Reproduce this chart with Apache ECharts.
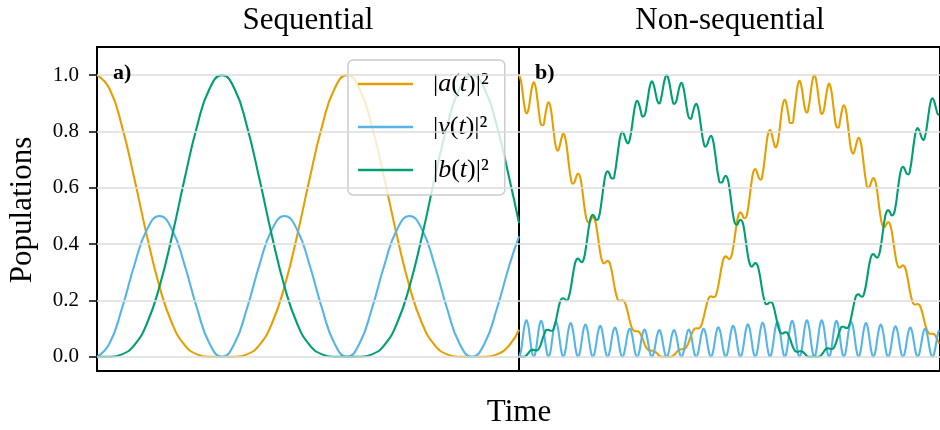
<!DOCTYPE html>
<html>
<head>
<meta charset="utf-8">
<script src="https://cdn.jsdelivr.net/npm/echarts@6/dist/echarts.min.js"></script>
<style>html,body{margin:0;padding:0;background:#fff}#c{width:940px;height:430px}</style>
</head>
<body>
<div id="c"></div>
<script>
// ---------- data ----------
const yTicks = [0, 0.2, 0.4, 0.6, 0.8, 1.0];
const seriesNames = ['a', 'v', 'b'];
const panelTitles = ['Sequential', 'Non-sequential'];
const panelTags = ['a)', 'b)'];

// Sequential panel (time in sample units)
const seqT = [0,1,2,3,4,5,6,7,8,9,10,11,12,13,14,15,16,17,18,19,20,21,22,23,24,25,26,27,28,29,30,31,32,33,33.76];
const seqA = [1,0.9517,0.8181,0.6303,0.4284,0.25,0.1194,0.0425,0.0091,0.0006,0,0.0006,0.0091,0.0425,0.1194,0.25,0.4284,0.6303,0.8181,0.9517,
              1,0.9517,0.8181,0.6303,0.4284,0.25,0.1194,0.0425,0.0091,0.0006,0,0.0006,0.0091,0.0425,0.0963];
const seqV = [0,0.0477,0.1727,0.3273,0.4523,0.5,0.4523,0.3273,0.1727,0.0477,
              0,0.0477,0.1727,0.3273,0.4523,0.5,0.4523,0.3273,0.1727,0.0477,
              0,0.0477,0.1727,0.3273,0.4523,0.5,0.4523,0.3273,0.1727,0.0477,
              0,0.0477,0.1727,0.3273,0.4281];
const seqB = [0,0.0006,0.0091,0.0425,0.1194,0.25,0.4284,0.6303,0.8181,0.9517,
              1,0.9517,0.8181,0.6303,0.4284,0.25,0.1194,0.0425,0.0091,0.0006,
              0,0.0006,0.0091,0.0425,0.1194,0.25,0.4284,0.6303,0.8181,0.9517,
              1,0.9517,0.8181,0.6303,0.4755];

// Non-sequential panel (time in half-sample units)
const nsT = [0,0.5,1,1.5,2,2.5,3,3.5,4,4.5,5,5.5,6,6.5,7,7.5,8,8.5,9,9.5,
  10,10.5,11,11.5,12,12.5,13,13.5,14,14.5,15,15.5,16,16.5,17,17.5,18,18.5,19,19.5,
  20,20.5,21,21.5,22,22.5,23,23.5,24,24.5,25,25.5,26,26.5,27,27.5,28,28.5,29,29.5,
  30,30.5,31,31.5,32,32.5,33,33.5,34,34.5,35,35.5,36,36.5,37,37.5,38,38.5,39,39.5,
  40,40.5,41,41.5,42,42.5,43,43.5,44,44.5,45,45.5,46,46.5,47,47.5,48,48.5,49,49.5,
  50,50.5,51,51.5,52,52.5,53,53.5,54,54.5,55,55.5,56,56.5,57,57.5,58,58.5,59,59.5,
  60,60.5,61,61.5,62,62.5,63,63.5,64,64.5,65,65.5,66,66.5,67,67.5,68,68.5,69,69.5,
  70,70.5,71,71.5,72,72.5,73,73.5,74,74.5,75,75.5,76,76.5,77,77.5,78,78.5,79,79.5,
  80,80.5,81,81.5,82,82.5,83,83.5,84,84.5,85,85.5,86,86.5,87,87.5,88,88.5,89,89.5,
  90,90.5,91,91.5,92,92.5,93,93.5,94,94.5,95,95.5,96,96.5,97,97.5,98,98.5,99,99.5,
  100,100.5,101,101.5,102,102.5,103,103.5,104,104.5,105,105.5,106,106.5,107,107.5,108,108.5,109,109.5,
  110,110.5,111,111.5,112,112.5,113,113.5,113.78];
const nsA = [1.000,0.981,0.936,0.888,0.865,0.876,0.915,0.956,0.975,0.958,0.912,0.858,0.824,0.822,0.850,0.885,0.904,0.889,0.844,0.788,
  0.746,0.732,0.748,0.776,0.792,0.779,0.739,0.684,0.637,0.615,0.620,0.639,0.651,0.641,0.606,0.555,0.508,0.481,0.476,0.487,
  0.496,0.488,0.459,0.415,0.371,0.342,0.332,0.336,0.341,0.335,0.312,0.277,0.240,0.213,0.200,0.199,0.201,0.197,0.181,0.156,
  0.128,0.106,0.094,0.091,0.091,0.089,0.079,0.064,0.046,0.033,0.025,0.023,0.022,0.021,0.017,0.011,0.004,0.001,0.000,0.000,
  0.000,0.000,0.000,0.002,0.007,0.014,0.021,0.026,0.027,0.028,0.030,0.039,0.053,0.072,0.088,0.099,0.102,0.101,0.104,0.116,
  0.139,0.168,0.194,0.211,0.215,0.213,0.213,0.226,0.254,0.291,0.327,0.351,0.357,0.352,0.347,0.357,0.386,0.430,0.475,0.505,
  0.513,0.504,0.492,0.495,0.523,0.570,0.621,0.657,0.667,0.654,0.635,0.629,0.650,0.696,0.752,0.793,0.805,0.789,0.761,0.744,
  0.756,0.797,0.853,0.898,0.913,0.895,0.859,0.830,0.830,0.864,0.917,0.963,0.980,0.961,0.919,0.879,0.867,0.889,0.936,0.981,
  1.000,0.981,0.936,0.887,0.862,0.872,0.910,0.950,0.970,0.953,0.907,0.853,0.817,0.814,0.841,0.875,0.893,0.879,0.834,0.778,
  0.735,0.721,0.736,0.762,0.778,0.766,0.726,0.671,0.624,0.601,0.605,0.623,0.635,0.625,0.590,0.540,0.494,0.466,0.461,0.470,
  0.479,0.471,0.443,0.400,0.357,0.327,0.317,0.320,0.325,0.319,0.297,0.263,0.227,0.200,0.187,0.186,0.188,0.184,0.168,0.144,
  0.117,0.096,0.085,0.082,0.082,0.080,0.070,0.056,0.047];
const nsV = [0.000,0.019,0.065,0.111,0.130,0.111,0.065,0.019,0.000,0.019,0.064,0.110,0.128,0.109,0.064,0.019,0.000,0.018,0.063,0.107,
  0.125,0.106,0.062,0.018,0.000,0.018,0.061,0.103,0.120,0.102,0.060,0.017,0.000,0.017,0.058,0.099,0.115,0.098,0.057,0.017,
  0.000,0.016,0.055,0.094,0.110,0.093,0.054,0.016,0.000,0.016,0.053,0.090,0.104,0.089,0.052,0.015,0.000,0.015,0.050,0.086,
  0.100,0.085,0.050,0.014,0.000,0.014,0.049,0.083,0.097,0.082,0.048,0.014,0.000,0.014,0.048,0.081,0.095,0.081,0.048,0.014,
  0.000,0.014,0.048,0.081,0.095,0.081,0.048,0.014,0.000,0.014,0.048,0.083,0.097,0.083,0.049,0.014,0.000,0.014,0.050,0.085,
  0.100,0.086,0.051,0.015,0.000,0.015,0.052,0.089,0.105,0.090,0.053,0.016,0.000,0.016,0.054,0.093,0.110,0.095,0.056,0.016,
  0.000,0.017,0.057,0.098,0.116,0.099,0.059,0.017,0.000,0.017,0.060,0.103,0.121,0.104,0.061,0.018,0.000,0.018,0.062,0.106,
  0.125,0.107,0.063,0.019,0.000,0.019,0.064,0.109,0.128,0.110,0.064,0.019,0.000,0.019,0.065,0.111,0.130,0.111,0.065,0.019,
  0.000,0.019,0.065,0.111,0.130,0.111,0.065,0.019,0.000,0.019,0.064,0.109,0.128,0.109,0.064,0.019,0.000,0.018,0.063,0.107,
  0.124,0.106,0.062,0.018,0.000,0.018,0.061,0.103,0.120,0.102,0.059,0.017,0.000,0.017,0.058,0.098,0.115,0.097,0.057,0.016,
  0.000,0.016,0.055,0.094,0.109,0.092,0.054,0.016,0.000,0.015,0.053,0.089,0.104,0.088,0.051,0.015,0.000,0.015,0.050,0.085,
  0.100,0.085,0.049,0.014,0.000,0.014,0.049,0.083,0.094];
const nsB = [0.000,0.000,0.000,0.001,0.005,0.013,0.021,0.025,0.025,0.023,0.024,0.032,0.048,0.069,0.086,0.096,0.096,0.093,0.093,0.105,
  0.129,0.161,0.190,0.206,0.208,0.203,0.200,0.213,0.243,0.283,0.321,0.344,0.349,0.342,0.336,0.346,0.377,0.422,0.467,0.496,
  0.504,0.496,0.486,0.491,0.519,0.565,0.614,0.649,0.659,0.650,0.635,0.633,0.656,0.699,0.748,0.786,0.799,0.788,0.768,0.758,
  0.772,0.809,0.856,0.894,0.909,0.897,0.872,0.853,0.857,0.885,0.927,0.963,0.978,0.965,0.936,0.908,0.900,0.918,0.953,0.986,
  1.000,0.986,0.953,0.916,0.898,0.904,0.931,0.960,0.973,0.958,0.922,0.879,0.850,0.845,0.863,0.887,0.898,0.884,0.846,0.799,
  0.761,0.746,0.755,0.774,0.785,0.772,0.735,0.685,0.641,0.619,0.620,0.634,0.643,0.633,0.599,0.550,0.504,0.475,0.469,0.479,
  0.487,0.480,0.451,0.406,0.361,0.331,0.320,0.326,0.333,0.328,0.306,0.269,0.229,0.200,0.187,0.189,0.195,0.193,0.177,0.150,
  0.119,0.095,0.084,0.083,0.087,0.087,0.077,0.061,0.042,0.027,0.019,0.018,0.020,0.020,0.016,0.010,0.003,0.000,0.000,0.000,
  0.000,0.000,0.000,0.002,0.008,0.017,0.026,0.031,0.030,0.028,0.029,0.038,0.055,0.077,0.096,0.107,0.107,0.103,0.103,0.115,
  0.141,0.173,0.203,0.220,0.222,0.216,0.214,0.226,0.256,0.297,0.336,0.360,0.365,0.358,0.352,0.361,0.392,0.437,0.483,0.513,
  0.521,0.513,0.502,0.507,0.534,0.580,0.629,0.664,0.675,0.666,0.651,0.648,0.669,0.712,0.762,0.799,0.812,0.801,0.781,0.770,
  0.783,0.819,0.866,0.904,0.918,0.906,0.881,0.861,0.860];

// ---------- chart ----------
const serif = "'Liberation Serif', 'Times New Roman', Times, serif";
const colors = ['#E69F00', '#56B4E9', '#009E73'];
const chart = echarts.init(document.getElementById('c'), null, {renderer: 'canvas'});

function pairs(t, y) { return t.map((x, i) => [x, y[i]]); }

function lineSeries(name, color, t, y, gi) {
  return {
    name: name, type: 'line', xAxisIndex: gi, yAxisIndex: gi,
    data: pairs(t, y), smooth: true, symbol: 'none', showSymbol: false,
    lineStyle: {color: color, width: 2.1}, itemStyle: {color: color},
    z: 3, silent: true, animation: false, clip: true
  };
}
function gridSeries(gi) {
  return {
    type: 'line', xAxisIndex: gi, yAxisIndex: gi, data: [], z: 1, silent: true, animation: false,
    markLine: {
      symbol: 'none', silent: true, animation: false, label: {show: false},
      lineStyle: {color: '#dcdcdc', width: 1.5, type: 'solid'},
      emphasis: {disabled: true},
      data: yTicks.map(v => ({yAxis: v}))
    }
  };
}

const option = {
  animation: false,
  backgroundColor: '#ffffff',
  grid: [
    {left: 97, top: 47, width: 422, height: 324, show: true, borderColor: '#000', borderWidth: 2, backgroundColor: 'transparent', containLabel: false},
    {left: 519, top: 47, width: 422, height: 324, show: true, borderColor: '#000', borderWidth: 2, backgroundColor: 'transparent', containLabel: false}
  ],
  xAxis: [
    {gridIndex: 0, type: 'value', min: 0, max: 33.76, show: false},
    {gridIndex: 1, type: 'value', min: 0, max: 114.05, show: false}
  ],
  yAxis: [
    {gridIndex: 0, type: 'value', min: -0.05, max: 1.1,
     axisLine: {show: false},
     axisTick: {show: true, length: 8, lineStyle: {color: '#000', width: 1.5}, customValues: yTicks},
     axisLabel: {show: true, customValues: yTicks, formatter: v => Number(v).toFixed(1), fontFamily: serif, fontSize: 21, color: '#000', margin: 18},
     splitLine: {show: false}},
    {gridIndex: 1, type: 'value', min: -0.05, max: 1.1, show: false, splitLine: {show: false}}
  ],
  legend: {
    data: seriesNames,
    orient: 'vertical', left: 348, top: 60,
    padding: [11, 16, 12, 10],
    icon: 'rect',
    itemWidth: 55, itemHeight: 2.5, itemGap: 17,
    backgroundColor: 'rgba(255,255,255,0.8)', borderColor: '#cccccc', borderWidth: 1.5, borderRadius: 5,
    selectedMode: false,
    formatter: n => '|{i|' + n + '}({i|t})|²',
    textStyle: {fontFamily: serif, fontSize: 26, lineHeight: 26, color: '#000', padding: [0, 0, 0, 15],
      rich: {i: {fontStyle: 'italic', fontFamily: serif, fontSize: 26, lineHeight: 26, color: '#000'}}}
  },
  graphic: [
    {type: 'text', x: 308, y: 21, silent: true, style: {text: panelTitles[0], fontFamily: serif, fontSize: 31, fill: '#000', align: 'center', verticalAlign: 'middle'}},
    {type: 'text', x: 730, y: 21, silent: true, style: {text: panelTitles[1], fontFamily: serif, fontSize: 31, fill: '#000', align: 'center', verticalAlign: 'middle'}},
    {type: 'text', x: 519, y: 413, silent: true, style: {text: 'Time', fontFamily: serif, fontSize: 31, fill: '#000', align: 'center', verticalAlign: 'middle'}},
    {type: 'text', x: 23, y: 210, rotation: Math.PI / 2, silent: true, style: {text: 'Populations', fontFamily: serif, fontSize: 31, fill: '#000', align: 'center', verticalAlign: 'middle'}},
    {type: 'text', x: 113, y: 73, silent: true, z: 10, style: {text: panelTags[0], fontFamily: serif, fontSize: 22, fontWeight: 'bold', fill: '#000', align: 'left', verticalAlign: 'middle'}},
    {type: 'text', x: 535, y: 73, silent: true, z: 10, style: {text: panelTags[1], fontFamily: serif, fontSize: 22, fontWeight: 'bold', fill: '#000', align: 'left', verticalAlign: 'middle'}}
  ],
  series: [
    gridSeries(0), gridSeries(1),
    lineSeries('a', colors[0], seqT, seqA, 0),
    lineSeries('v', colors[1], seqT, seqV, 0),
    lineSeries('b', colors[2], seqT, seqB, 0),
    lineSeries('a', colors[0], nsT, nsA, 1),
    lineSeries('v', colors[1], nsT, nsV, 1),
    lineSeries('b', colors[2], nsT, nsB, 1)
  ]
};
chart.setOption(option);
</script>
</body>
</html>
